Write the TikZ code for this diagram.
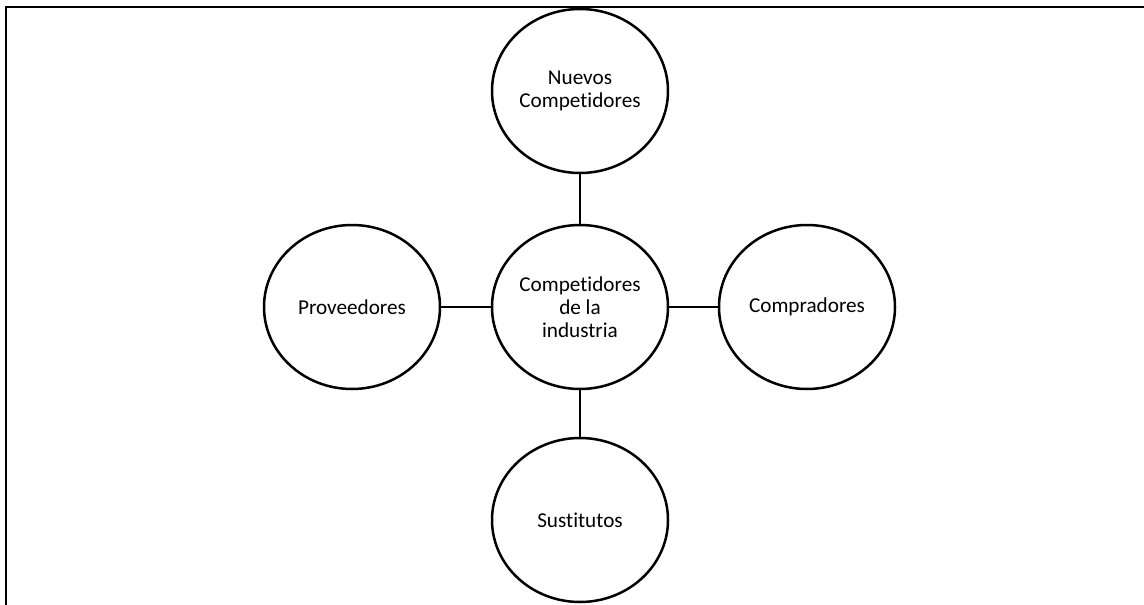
\documentclass[tikz,border=0pt]{standalone}
\usepackage{fontspec}
\setmainfont{Carlito}[Ligatures=NoCommon]
\usetikzlibrary{shapes.geometric}
\begin{document}
\begin{tikzpicture}[x=1pt,y=-1pt,
  force/.style={ellipse, draw, line width=2.5pt, minimum width=176pt, minimum height=164pt,
    inner sep=0pt, align=center, font=\fontsize{21.2}{23}\selectfont},
  link/.style={line width=1.2pt},
  frame/.style={line width=2pt}]
\useasboundingbox (0,0) rectangle (1144,605);
% open frame: left edge and top edge
\draw[frame] (6,605) -- (6,7) -- (1144,7);
% five forces
\node[force] (ind) at (580,307) {Competidores\\de la\\industria};
\node[force] (nue) at (580,91) {Nuevos\\Competidores};
\node[force] (pro) at (352,307) {Proveedores};
\node[force] (com) at (807,307) {Compradores};
\node[force] (sus) at (580,520) {Sustitutos};
% connectors
\draw[link] (nue) -- (ind);
\draw[link] (ind) -- (sus);
\draw[link] (pro) -- (ind);
\draw[link] (ind) -- (com);
\end{tikzpicture}
\end{document}
